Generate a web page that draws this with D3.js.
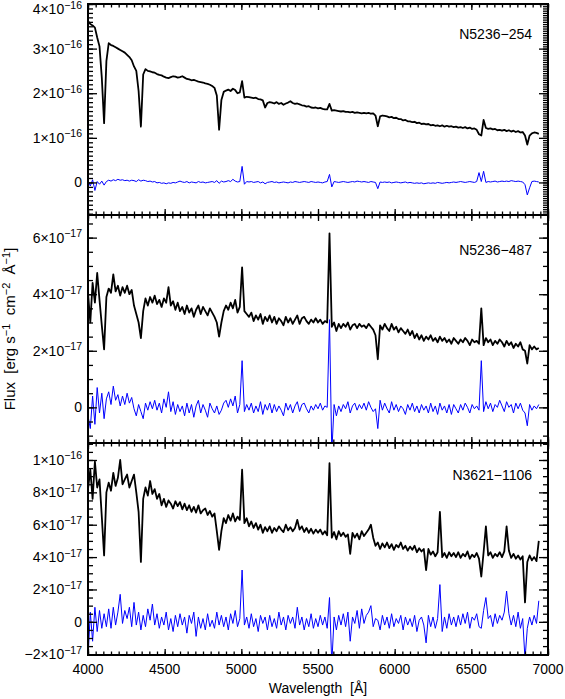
<!DOCTYPE html>
<html lang="en">
<head>
<meta charset="UTF-8">
<title>Spectra and fit residuals</title>
<script src="https://d3js.org/d3.v7.min.js"></script>
<style>
    body { margin: 0; background: #fff; }
    svg text { font-family: "Liberation Sans", Arial, sans-serif; fill: #000; }
    .tick line { stroke: #000; stroke-width: 1.3; }
    .domain { display: none; }
</style>
</head>
<body>
<svg id="chart" width="565" height="699"></svg>
<script>
    // spectra are sampled on a regular 15 A grid, 4000 - 6940 A
    let wavelength = d3.range(4000, 6941, 15)
    let xTickLabels = [4000, 4500, 5000, 5500, 6000, 6500, 7000]

    // N5236-254, flux in units of 1e-16
    let flux254 = [
        3.62, 3.55, 3.52, 3.47, 3.25, 3.05, 2.35, 1.33, 2.72, 3.12,
        3.08, 3.06, 3.03, 3.00, 2.97, 2.94, 2.91, 2.86, 2.81, 2.74,
        2.60, 2.50, 2.05, 1.25, 2.42, 2.54, 2.50, 2.49, 2.47, 2.46,
        2.43, 2.41, 2.40, 2.37, 2.35, 2.34, 2.36, 2.38, 2.37, 2.35,
        2.36, 2.38, 2.35, 2.32, 2.31, 2.29, 2.30, 2.28, 2.26, 2.25,
        2.24, 2.22, 2.21, 2.19, 2.16, 2.12, 1.95, 1.18, 1.85, 2.03,
        2.06, 2.08, 2.05, 2.10, 2.07, 2.00, 2.02, 2.27, 1.90, 1.92,
        1.91, 1.90, 1.89, 1.90, 1.87, 1.86, 1.84, 1.68, 1.78, 1.80,
        1.79, 1.77, 1.80, 1.76, 1.78, 1.74, 1.77, 1.79, 1.82, 1.78,
        1.76, 1.77, 1.75, 1.73, 1.72, 1.70, 1.71, 1.68, 1.67, 1.68,
        1.66, 1.67, 1.65, 1.64, 1.64, 1.76, 1.61, 1.62, 1.61, 1.60,
        1.59, 1.60, 1.58, 1.58, 1.57, 1.58, 1.56, 1.57, 1.56, 1.55,
        1.56, 1.55, 1.56, 1.54, 1.55, 1.50, 1.26, 1.48, 1.50, 1.49,
        1.48, 1.46, 1.47, 1.44, 1.45, 1.42, 1.42, 1.39, 1.40, 1.37,
        1.37, 1.35, 1.36, 1.33, 1.34, 1.31, 1.32, 1.30, 1.31, 1.28,
        1.29, 1.27, 1.28, 1.26, 1.28, 1.25, 1.27, 1.25, 1.26, 1.24,
        1.25, 1.23, 1.24, 1.22, 1.24, 1.21, 1.23, 1.20, 1.21, 1.18,
        1.08, 1.05, 1.40, 1.22, 1.20, 1.21, 1.19, 1.20, 1.17, 1.18,
        1.16, 1.18, 1.15, 1.17, 1.14, 1.16, 1.13, 1.15, 1.12, 1.13,
        1.05, 0.85, 1.05, 1.10, 1.12, 1.11, 1.09
    ]
    let resid254 = [
        0.05, -0.08, 0.06, -0.18, 0.02, -0.04, 0.03, -0.06, 0.02, 0.05,
        0.03, 0.06, 0.04, 0.07, 0.05, 0.06, 0.04, 0.05, 0.03, 0.05,
        0.04, 0.02, 0.06, 0.03, 0.05, 0.04, 0.02, 0.03, 0.01, 0.02,
        -0.01, 0.00, -0.02, -0.01, -0.03, -0.01, -0.02, 0.00, -0.01, 0.01,
        0.03, 0.01, 0.00, 0.02, -0.01, 0.01, 0.00, -0.01, 0.02, 0.00,
        0.01, -0.01, 0.00, 0.01, 0.02, 0.00, 0.04, -0.02, 0.03, 0.01,
        0.02, 0.04, 0.02, 0.07, 0.03, 0.01, 0.02, 0.36, -0.04, 0.02,
        0.01, 0.02, 0.00, 0.01, 0.02, -0.01, 0.01, -0.03, 0.00, 0.01,
        0.02, 0.00, 0.01, -0.01, 0.00, 0.01, 0.00, -0.01, 0.01, 0.00,
        0.02, 0.01, 0.00, 0.01, 0.02, 0.01, 0.00, 0.02, 0.01, 0.00,
        0.01, 0.00, -0.01, 0.01, 0.02, 0.18, -0.10, 0.02, 0.01, 0.00,
        0.01, 0.02, 0.01, 0.00, 0.01, 0.02, 0.01, 0.03, 0.02, 0.01,
        0.02, 0.01, 0.00, 0.02, 0.01, 0.00, -0.14, 0.01, 0.00, 0.01,
        0.00, 0.01, -0.01, 0.00, 0.01, 0.00, -0.01, 0.00, 0.01, -0.01,
        0.00, -0.01, -0.02, -0.01, -0.02, -0.01, -0.03, -0.02, -0.01, -0.02,
        -0.01, -0.02, 0.00, -0.01, -0.02, -0.01, 0.00, -0.01, 0.00, 0.01,
        0.00, 0.01, 0.02, 0.01, 0.00, 0.01, 0.02, 0.01, 0.00, 0.02,
        0.22, 0.02, 0.25, 0.00, 0.02, 0.01, 0.02, 0.03, 0.01, 0.02,
        0.03, 0.02, 0.03, 0.02, 0.04, 0.03, 0.02, 0.03, 0.02, 0.01,
        -0.05, -0.28, -0.12, 0.02, 0.03, 0.02, 0.01
    ]

    // N5236-487, flux in units of 1e-17
    let flux487 = [
        4.05, 3.00, 4.40, 3.70, 4.75, 3.80, 2.90, 2.05, 3.90, 4.20,
        4.05, 4.70, 4.10, 4.30, 3.95, 4.25, 4.05, 4.30, 4.00, 4.15,
        3.60, 3.30, 3.00, 2.45, 3.40, 3.85, 3.60, 3.90, 3.70, 3.95,
        3.65, 3.80, 3.55, 3.85, 3.70, 4.25, 3.60, 3.75, 3.45, 3.70,
        3.40, 3.55, 3.30, 3.60, 3.35, 3.50, 3.20, 3.45, 3.60, 3.30,
        3.55, 3.40, 3.25, 3.50, 3.35, 3.20, 3.00, 2.50, 3.00, 3.40,
        3.60, 3.45, 3.70, 3.50, 3.80, 3.35, 3.55, 4.95, 3.40, 3.30,
        3.20, 3.35, 3.05, 3.25, 3.10, 3.30, 2.95, 3.20, 3.05, 3.25,
        3.00, 3.20, 2.95, 3.15, 3.05, 2.90, 3.20, 3.00, 3.15, 2.95,
        3.10, 3.25, 2.95, 3.15, 3.20, 3.05, 2.95, 3.10, 3.00, 3.15,
        3.00, 3.10, 2.95, 3.05, 3.00, 6.15, 2.85, 3.00, 2.70, 2.95,
        2.80, 2.95, 2.85, 3.00, 2.75, 2.90, 2.95, 2.80, 2.95, 2.85,
        2.90, 2.80, 2.95, 2.85, 2.75, 2.55, 1.70, 2.90, 2.75, 2.95,
        2.80, 2.70, 2.95, 2.75, 2.85, 2.65, 2.80, 2.70, 2.60, 2.75,
        2.55, 2.70, 2.45, 2.60, 2.40, 2.55, 2.35, 2.50, 2.40, 2.55,
        2.35, 2.45, 2.30, 2.50, 2.35, 2.45, 2.30, 2.40, 2.25, 2.45,
        2.35, 2.25, 2.40, 2.30, 2.45, 2.35, 2.20, 2.40, 2.30, 2.35,
        2.25, 3.50, 2.20, 2.45, 2.30, 2.40, 2.20, 2.35, 2.25, 2.40,
        2.30, 2.15, 2.35, 2.20, 2.30, 2.10, 2.25, 2.15, 2.30, 2.05,
        2.00, 1.55, 2.20, 2.05, 2.15, 2.05, 2.10
    ]
    let resid487 = [
        -0.30, -0.75, 0.40, -0.60, 0.70, -0.20, 0.50, -0.40, 0.30, 0.55,
        0.10, 0.75, 0.25, 0.45, 0.05, 0.40, 0.10, 0.50, 0.15, 0.35,
        -0.05, -0.30, 0.10, -0.15, -0.40, 0.15, -0.10, 0.20, -0.05, 0.25,
        -0.10, 0.15, -0.20, 0.30, 0.00, 0.55, -0.15, 0.20, -0.25, 0.10,
        -0.15, 0.05, -0.30, 0.15, -0.20, 0.10, -0.35, 0.05, 0.25, -0.20,
        0.10, -0.10, -0.35, 0.15, -0.05, -0.20, 0.05, -0.25, -0.10, 0.15,
        0.25, 0.00, 0.30, 0.05, 0.40, -0.20, 0.10, 1.65, -0.15, 0.10,
        -0.10, 0.15, -0.20, 0.05, -0.15, 0.20, -0.25, 0.10, -0.10, 0.15,
        -0.20, 0.10, -0.15, 0.05, -0.10, -0.30, 0.15, -0.10, 0.10, -0.20,
        0.05, 0.20, -0.15, 0.10, 0.15, -0.05, -0.20, 0.05, -0.10, 0.10,
        -0.05, 0.15, -0.10, 0.05, 0.00, 3.10, -1.60, 0.10, -0.30, 0.05,
        -0.15, 0.10, -0.05, 0.20, -0.20, 0.05, 0.15, -0.10, 0.10, -0.05,
        0.15, -0.10, 0.20, 0.00, -0.15, -0.05, -0.75, 0.25, -0.10, 0.15,
        -0.05, -0.20, 0.20, -0.10, 0.10, -0.15, 0.05, -0.05, -0.25, 0.10,
        -0.10, 0.15, -0.15, 0.05, -0.20, 0.10, -0.10, 0.05, -0.20, 0.15,
        -0.15, 0.05, -0.25, 0.15, -0.10, 0.05, -0.20, 0.10, -0.25, 0.10,
        -0.05, -0.20, 0.10, -0.10, 0.15, 0.00, -0.20, 0.10, -0.05, 0.05,
        -0.10, 1.65, -0.15, 0.20, -0.05, 0.15, -0.15, 0.10, 0.00, 0.25,
        0.05, -0.15, 0.20, 0.00, 0.10, -0.20, 0.15, -0.05, 0.15, -0.10,
        -0.20, -0.65, 0.10, -0.10, 0.05, -0.05, 0.10
    ]

    // N3621-1106, flux in units of 1e-17
    let flux1106 = [
        8.20, 9.40, 7.60, 9.90, 8.30, 8.80, 6.50, 4.10, 8.00, 8.60,
        8.10, 9.20, 8.40, 8.90, 10.00, 8.50, 8.80, 9.10, 8.30, 8.70,
        9.10, 8.00, 6.80, 3.70, 7.60, 8.30, 7.80, 8.70, 7.90, 8.20,
        7.60, 7.90, 7.20, 7.60, 7.10, 7.50, 7.30, 7.00, 7.45, 7.15,
        7.40, 6.95, 7.30, 6.90, 7.20, 6.80, 7.10, 6.75, 7.20, 6.70,
        6.90, 7.00, 6.60, 6.85, 6.50, 6.70, 5.60, 4.45, 5.60, 6.40,
        6.10, 6.60, 6.25, 6.70, 6.20, 6.50, 6.30, 9.40, 6.10, 6.40,
        5.90, 6.20, 5.80, 6.10, 5.70, 6.00, 5.50, 5.85, 5.60, 5.90,
        5.50, 5.80, 5.60, 5.90, 5.70, 5.55, 6.00, 5.65, 5.85, 5.60,
        5.80, 6.30, 5.70, 5.90, 5.55, 5.80, 5.50, 5.75, 5.45, 5.70,
        5.50, 5.70, 5.40, 5.60, 5.35, 9.80, 5.20, 5.55, 5.10, 5.60,
        5.30, 5.50, 5.25, 5.40, 4.20, 5.50, 5.20, 5.45, 5.10, 5.60,
        5.30, 5.50, 5.70, 6.00, 5.20, 4.70, 4.90, 4.50, 4.85, 4.60,
        4.90, 4.55, 4.80, 4.45, 4.75, 4.60, 4.90, 4.50, 4.70, 4.40,
        4.65, 4.45, 4.70, 4.30, 4.55, 4.35, 4.50, 3.20, 4.50, 4.15,
        4.35, 4.05, 4.30, 6.80, 4.00, 4.25, 3.95, 4.30, 4.05, 4.25,
        4.00, 4.30, 3.95, 4.20, 4.05, 4.35, 3.90, 4.15, 4.00, 4.25,
        3.90, 2.80, 4.30, 5.90, 4.10, 4.30, 3.95, 4.20, 4.05, 4.30,
        4.00, 4.35, 5.90, 4.40, 3.95, 4.20, 3.90, 4.10, 3.85, 4.05,
        1.20, 3.70, 4.10, 3.80, 4.00, 3.75, 5.00
    ]
    let resid1106 = [
        -2.30, 0.60, -1.20, 0.90, -0.60, 0.70, -0.40, 0.50, -0.30, 0.80,
        -0.40, 0.90, -0.20, 0.60, 1.70, -0.10, 0.70, 0.20, 0.90, -0.30,
        1.20, -0.20, 0.60, -0.50, 0.40, -0.30, 0.80, 0.10, 1.10, -0.20,
        0.50, -0.40, 0.30, -0.20, 0.60, -0.50, 0.20, -0.60, 0.40, -0.30,
        0.50, -0.20, 0.30, -0.70, 0.40, -0.10, 0.60, -0.90, 0.30, -0.40,
        0.20, -0.50, 0.50, -0.30, 0.10, -0.40, 0.60, -0.20, 0.40, -0.30,
        0.30, -0.50, 0.50, -0.10, 0.70, -0.30, 0.20, 3.20, -0.20, 0.30,
        -0.40, 0.50, -0.30, 0.20, -0.60, 0.40, -0.10, 0.30, -0.50, 0.40,
        -0.30, 0.20, -0.40, 0.60, -0.20, 0.30, -0.50, 0.40, -0.10, 0.30,
        -0.40, 0.90, -0.20, 0.30, -0.50, 0.20, -0.30, 0.50, -0.40, 0.20,
        -0.30, 0.40, -0.20, 0.30, -0.40, 1.50, -2.60, 0.30, -0.50, 0.40,
        -0.20, 0.50, -0.30, 0.60, -1.20, 0.30, -0.10, 0.70, -0.40, 0.80,
        -0.10, 0.40, 0.60, 1.00, -0.30, 0.20, 0.10, -0.50, 0.40, -0.20,
        0.30, -0.40, 0.50, -0.30, 0.20, -0.10, 0.40, -0.50, 0.30, -0.20,
        0.20, -0.30, 0.40, -0.60, 0.10, 0.30, -0.20, -1.30, 0.40, -0.30,
        0.30, -0.40, 0.20, 2.30, -0.60, 0.30, -0.40, 0.50, -0.20, 0.30,
        -0.30, 0.40, -0.20, 0.50, -0.10, 0.60, -0.40, 0.30, 0.10, 0.50,
        -0.30, -0.40, 0.70, 1.50, 0.20, 0.40, -0.30, 0.50, -0.10, 0.40,
        0.10, 0.60, 1.90, 0.50, -0.20, 0.40, -0.30, 0.60, -0.40, 0.20,
        -2.30, -0.40, 0.30, -0.20, 0.40, -0.10, 1.30
    ]

    let panels = [
        {name: "N5236\u2212254", flux: flux254, resid: resid254, exp: -16,
            domain: [-0.73, 4.0], top: 4, bottom: 215,
            labels: [0, 1, 2, 3, 4], minorLeft: 0.1, minorRight: 0.05, nameY: 39},
        {name: "N5236\u2212487", flux: flux487, resid: resid487, exp: -17,
            domain: [-1.26, 6.8], top: 215, bottom: 443,
            labels: [0, 2, 4, 6], minorLeft: 0.5, minorRight: 0.5, nameY: 255},
        {name: "N3621\u22121106", flux: flux1106, resid: resid1106, exp: -17,
            domain: [-2.05, 11.05], top: 443, bottom: 655,
            labels: [-2, 0, 2, 4, 6, 8, 10], minorLeft: 0.5, minorRight: 0.5, nameY: 480}
    ]

    let left = 88, right = 548
    let svg = d3.select("#chart")

    let x = d3.scaleLinear().domain([4000, 7000]).range([left, right])
    let xMajor = d3.range(4000, 7001, 500)
    let xMinor = d3.range(4000, 7001, 50)

    function multiples(domain, step) {
        return d3.range(Math.ceil(domain[0] / step - 1e-9), Math.floor(domain[1] / step + 1e-9) + 1)
            .map(k => +(k * step).toFixed(4))
    }

    function sciLabel(g, v, exp, px, py) {
        let t = g.append("text")
            .attr("x", px).attr("y", py)
            .attr("text-anchor", "end")
            .style("font-size", "14px")
        if (v === 0) {
            t.text("0")
            return
        }
        let m = v, e = exp
        if (Math.abs(m) >= 10) { m = m / 10; e = e + 1 }
        t.append("tspan").text((m < 0 ? "\u2212" : "") + Math.abs(m) + "\u00d710")
        t.append("tspan").attr("dy", -5.5).style("font-size", "10.5px").text("\u2212" + Math.abs(e))
    }

    panels.forEach((p, idx) => {
        let y = d3.scaleLinear().domain(p.domain).range([p.bottom, p.top])
        let g = svg.append("g")

        g.append("clipPath").attr("id", "clip" + idx)
            .append("rect")
            .attr("x", left).attr("y", p.top)
            .attr("width", right - left).attr("height", p.bottom - p.top)

        let line = d3.line()
            .x((d, i) => x(wavelength[i]))
            .y(d => y(d))

        let plot = g.append("g").attr("clip-path", `url(#clip${idx})`)
        plot.append("path")
            .datum(p.flux)
            .attr("d", line)
            .attr("fill", "none")
            .attr("stroke", "#000")
            .attr("stroke-width", 1.8)
            .attr("stroke-linejoin", "round")
        plot.append("path")
            .datum(p.resid)
            .attr("d", line)
            .attr("fill", "none")
            .attr("stroke", "#0000ff")
            .attr("stroke-width", 1)

        // y ticks, pointing inward on both sides
        g.append("g").attr("transform", `translate(${left},0)`)
            .call(d3.axisLeft(y).tickValues(multiples(p.domain, p.minorLeft)).tickSize(-5).tickFormat(""))
        g.append("g").attr("transform", `translate(${left},0)`)
            .call(d3.axisLeft(y).tickValues(p.labels).tickSize(-9).tickFormat(""))
        g.append("g").attr("transform", `translate(${right},0)`)
            .call(d3.axisRight(y).tickValues(multiples(p.domain, p.minorRight)).tickSize(-5).tickFormat(""))
        g.append("g").attr("transform", `translate(${right},0)`)
            .call(d3.axisRight(y).tickValues(p.labels).tickSize(-9).tickFormat(""))

        // x ticks on top and bottom
        g.append("g").attr("transform", `translate(0,${p.bottom})`)
            .call(d3.axisBottom(x).tickValues(xMinor).tickSize(-3.5).tickFormat(""))
        g.append("g").attr("transform", `translate(0,${p.bottom})`)
            .call(d3.axisBottom(x).tickValues(xMajor).tickSize(-6).tickFormat(""))
        g.append("g").attr("transform", `translate(0,${p.top})`)
            .call(d3.axisTop(x).tickValues(xMinor).tickSize(-3.5).tickFormat(""))
        g.append("g").attr("transform", `translate(0,${p.top})`)
            .call(d3.axisTop(x).tickValues(xMajor).tickSize(-6).tickFormat(""))

        g.append("rect")
            .attr("x", left).attr("y", p.top)
            .attr("width", right - left).attr("height", p.bottom - p.top)
            .attr("fill", "none").attr("stroke", "#000").attr("stroke-width", 2)

        // keep the topmost label inside the picture
        p.labels.forEach(v => sciLabel(g, v, p.exp, 82, Math.max(y(v) + 5, 14)))

        g.append("text")
            .attr("x", 532).attr("y", p.nameY)
            .attr("text-anchor", "end")
            .style("font-size", "14px")
            .text(p.name)
    })

    // wavelength labels under the last panel
    svg.append("g").selectAll("text")
        .data(xTickLabels)
        .join("text")
        .attr("x", d => x(d))
        .attr("y", 674)
        .attr("text-anchor", "middle")
        .style("font-size", "14px")
        .text(d => d)

    svg.append("text")
        .attr("x", (left + right) / 2).attr("y", 693)
        .attr("text-anchor", "middle")
        .style("font-size", "14px")
        .style("white-space", "pre")
        .text("Wavelength  [\u00c5]")

    let ylab = svg.append("text")
        .attr("transform", "translate(15,329) rotate(-90)")
        .attr("text-anchor", "middle")
        .style("font-size", "15px")
        .style("white-space", "pre")
    ylab.append("tspan").text("Flux  [erg s")
    ylab.append("tspan").attr("dy", -5).style("font-size", "11px").text("\u22121")
    ylab.append("tspan").attr("dy", 5).text("  cm")
    ylab.append("tspan").attr("dy", -5).style("font-size", "11px").text("\u22122")
    ylab.append("tspan").attr("dy", 5).text("  \u00c5")
    ylab.append("tspan").attr("dy", -5).style("font-size", "11px").text("\u22121")
    ylab.append("tspan").attr("dy", 5).text("]")
</script>
</body>
</html>
